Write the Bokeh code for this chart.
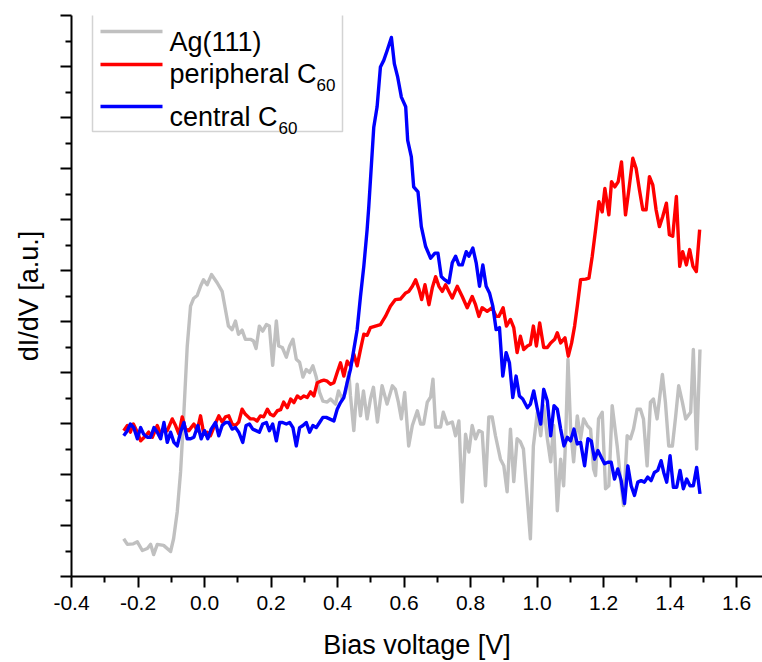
from bokeh.plotting import figure
from bokeh.models import FixedTicker, Label, BoxAnnotation, Arrow, Range1d
from bokeh.embed import file_html
from bokeh.resources import INLINE

# ---------------- data ----------------
ag_v = [-0.243, -0.232, -0.214, -0.202, -0.187, -0.172, -0.162, -0.153, -0.142, -0.123,
        -0.102, -0.093, -0.082, -0.072, -0.063, -0.052, -0.042, -0.033, -0.022, -0.012,
        -0.003, 0.008, 0.021, 0.038, 0.053, 0.063, 0.072, 0.083, 0.093, 0.102,
        0.113, 0.123, 0.138, 0.147, 0.155, 0.165, 0.175, 0.186, 0.195, 0.205,
        0.216, 0.223, 0.234, 0.246, 0.256, 0.266, 0.276, 0.286, 0.296, 0.306,
        0.316, 0.326, 0.336, 0.346, 0.356, 0.369, 0.379, 0.394, 0.403, 0.414,
        0.424, 0.434, 0.439, 0.449, 0.459, 0.469, 0.478, 0.489, 0.499, 0.508,
        0.520, 0.534, 0.549, 0.565, 0.574, 0.583, 0.592, 0.602, 0.614, 0.625,
        0.640, 0.650, 0.659, 0.670, 0.680, 0.687, 0.695, 0.710, 0.718, 0.730,
        0.745, 0.755, 0.765, 0.775, 0.785, 0.795, 0.805, 0.815, 0.825, 0.835,
        0.845, 0.855, 0.865, 0.875, 0.890, 0.900, 0.910, 0.920, 0.930, 0.940,
        0.950, 0.959, 0.980, 0.989, 1.001, 1.011, 1.020, 1.031, 1.041, 1.050,
        1.061, 1.071, 1.080, 1.086, 1.093, 1.101, 1.110, 1.121, 1.131, 1.140,
        1.151, 1.161, 1.170, 1.176, 1.185, 1.196, 1.206, 1.216, 1.226, 1.241,
        1.251, 1.260, 1.271, 1.281, 1.290, 1.301, 1.311, 1.320, 1.331, 1.341,
        1.350, 1.361, 1.377, 1.386, 1.396, 1.407, 1.417, 1.426, 1.437, 1.447,
        1.462, 1.470, 1.480, 1.490]
ag_y = [0.74, 0.63, 0.64, 0.68, 0.51, 0.55, 0.63, 0.43, 0.63, 0.61,
        0.49, 0.74, 1.27, 2.05, 3.09, 4.51, 5.30, 5.45, 5.51, 5.69,
        5.82, 5.72, 5.92, 5.76, 5.59, 5.23, 4.91, 4.84, 5.01, 4.75,
        4.83, 4.65, 4.65, 4.62, 4.47, 4.91, 4.81, 4.94, 4.91, 4.14,
        5.01, 4.52, 4.49, 4.30, 4.52, 4.65, 4.26, 4.20, 3.91, 4.06,
        4.00, 4.13, 3.91, 3.61, 3.44, 3.42, 3.48, 3.38, 3.64, 3.48,
        3.61, 4.00, 3.54, 2.86, 3.77, 3.15, 3.64, 3.09, 3.48, 3.71,
        3.03, 3.74, 3.38, 3.74, 3.67, 3.42, 3.09, 3.61, 2.56, 2.96,
        3.25, 2.99, 2.99, 3.42, 3.52, 3.87, 2.93, 2.93, 3.22, 2.99,
        3.03, 2.76, 3.05, 1.46, 2.79, 2.44, 2.96, 2.70, 2.86, 2.83,
        1.78, 3.13, 3.13, 2.76, 2.30, 2.17, 1.66, 2.89, 1.86, 2.70,
        2.64, 2.50, 0.74, 2.56, 3.22, 2.76, 3.35, 2.70, 2.25, 2.96,
        1.29, 2.30, 1.78, 2.70, 4.26, 2.89, 2.25, 3.15, 2.70, 3.09,
        2.96, 2.89, 2.11, 1.98, 3.09, 3.22, 1.72, 1.78, 3.35, 2.56,
        1.91, 1.39, 2.76, 2.70, 2.89, 3.28, 3.28, 3.09, 2.17, 3.42,
        3.48, 3.09, 3.96, 3.42, 2.56, 2.56, 3.15, 3.74, 3.42, 3.09,
        3.22, 4.45, 2.50, 4.45]

per_v = [-0.243, -0.232, -0.223, -0.214, -0.202, -0.192, -0.177, -0.168, -0.157, -0.142,
         -0.132, -0.123, -0.112, -0.097, -0.087, -0.077, -0.067, -0.057, -0.047, -0.032,
         -0.022, -0.012, -0.002, 0.008, 0.018, 0.030, 0.043, 0.053, 0.063, 0.073,
         0.083, 0.093, 0.103, 0.113, 0.123, 0.138, 0.148, 0.158, 0.168, 0.178,
         0.189, 0.198, 0.208, 0.219, 0.229, 0.238, 0.249, 0.259, 0.269, 0.279,
         0.289, 0.299, 0.309, 0.319, 0.329, 0.339, 0.349, 0.359, 0.369, 0.379,
         0.389, 0.399, 0.409, 0.419, 0.429, 0.439, 0.449, 0.459, 0.469, 0.479,
         0.489, 0.499, 0.514, 0.529, 0.544, 0.559, 0.574, 0.589, 0.605, 0.614,
         0.625, 0.635, 0.645, 0.653, 0.663, 0.675, 0.685, 0.695, 0.705, 0.715,
         0.725, 0.735, 0.745, 0.760, 0.775, 0.790, 0.805, 0.815, 0.825, 0.835,
         0.850, 0.865, 0.877, 0.885, 0.898, 0.908, 0.920, 0.930, 0.940, 0.950,
         0.960, 0.971, 0.980, 0.989, 0.998, 1.008, 1.020, 1.031, 1.041, 1.053,
         1.061, 1.071, 1.084, 1.094, 1.104, 1.113, 1.121, 1.131, 1.146, 1.156,
         1.166, 1.176, 1.186, 1.196, 1.204, 1.216, 1.224, 1.234, 1.244, 1.254,
         1.266, 1.276, 1.288, 1.298, 1.308, 1.318, 1.328, 1.338, 1.348, 1.358,
         1.368, 1.378, 1.389, 1.398, 1.408, 1.419, 1.429, 1.438, 1.449, 1.459,
         1.469, 1.479, 1.489]
per_y = [2.86, 2.96, 2.83, 2.99, 2.83, 2.66, 2.76, 2.83, 2.73, 2.96,
         2.79, 2.89, 2.86, 3.09, 2.96, 2.79, 3.13, 2.89, 2.86, 2.99,
         2.86, 3.15, 2.79, 2.83, 2.76, 2.96, 3.15, 3.03, 3.13, 3.15,
         2.99, 2.96, 3.03, 3.28, 3.18, 3.09, 3.09, 3.05, 3.15, 3.13,
         3.28, 3.18, 3.15, 3.25, 3.27, 3.42, 3.31, 3.48, 3.41, 3.54,
         3.49, 3.54, 3.51, 3.62, 3.54, 3.80, 3.83, 3.85, 3.83, 3.77,
         3.80, 4.00, 4.19, 3.93, 4.22, 4.13, 4.36, 4.13, 4.45, 4.75,
         4.73, 4.88, 4.91, 4.94, 5.10, 5.30, 5.43, 5.44, 5.56, 5.59,
         5.69, 5.82, 5.63, 5.43, 5.72, 5.33, 5.66, 5.88, 5.69, 5.59,
         5.72, 5.59, 5.46, 5.69, 5.49, 5.27, 5.49, 5.33, 5.10, 5.27,
         5.20, 5.27, 5.10, 5.10, 5.27, 4.91, 5.04, 4.88, 4.39, 4.71,
         4.45, 4.52, 4.55, 4.91, 4.52, 4.97, 4.49, 4.49, 4.58, 4.65,
         4.78, 4.58, 4.68, 4.32, 4.58, 4.91, 5.30, 5.82, 5.83, 5.85,
         6.28, 6.80, 7.35, 7.15, 7.61, 7.09, 7.74, 7.64, 7.74, 8.13,
         7.09, 7.58, 8.20, 8.00, 7.58, 7.19, 7.19, 7.84, 7.68, 7.19,
         6.86, 7.06, 7.32, 6.70, 6.67, 7.45, 6.08, 6.37, 6.11, 6.41,
         6.08, 5.98, 6.80]

cen_v = [-0.243, -0.232, -0.223, -0.213, -0.202, -0.192, -0.183, -0.172, -0.162, -0.152,
         -0.142, -0.132, -0.122, -0.112, -0.102, -0.092, -0.082, -0.072, -0.062, -0.052,
         -0.042, -0.032, -0.020, -0.010, 0.000, 0.010, 0.020, 0.033, 0.043, 0.053,
         0.063, 0.073, 0.083, 0.093, 0.103, 0.115, 0.125, 0.135, 0.145, 0.155,
         0.165, 0.175, 0.186, 0.195, 0.205, 0.216, 0.226, 0.235, 0.246, 0.256,
         0.266, 0.276, 0.286, 0.296, 0.306, 0.316, 0.326, 0.336, 0.346, 0.356,
         0.366, 0.376, 0.389, 0.399, 0.409, 0.419, 0.429, 0.439, 0.449, 0.459,
         0.469, 0.479, 0.489, 0.494, 0.509, 0.519, 0.529, 0.539, 0.549, 0.562,
         0.571, 0.581, 0.592, 0.605, 0.611, 0.622, 0.629, 0.642, 0.652, 0.665,
         0.680, 0.693, 0.702, 0.712, 0.722, 0.735, 0.745, 0.755, 0.765, 0.775,
         0.787, 0.795, 0.807, 0.817, 0.827, 0.837, 0.847, 0.857, 0.867, 0.877,
         0.887, 0.897, 0.907, 0.917, 0.927, 0.937, 0.947, 0.957, 0.971, 0.980,
         0.990, 1.001, 1.011, 1.020, 1.031, 1.041, 1.051, 1.061, 1.071, 1.081,
         1.091, 1.101, 1.111, 1.121, 1.131, 1.143, 1.153, 1.163, 1.173, 1.183,
         1.193, 1.203, 1.213, 1.223, 1.233, 1.243, 1.253, 1.263, 1.273, 1.283,
         1.293, 1.303, 1.313, 1.323, 1.333, 1.343, 1.353, 1.363, 1.373, 1.381,
         1.390, 1.400, 1.410, 1.420, 1.430, 1.440, 1.450, 1.460, 1.470, 1.480,
         1.490]
cen_y = [2.76, 2.86, 2.99, 2.92, 2.70, 2.92, 2.79, 2.73, 2.73, 2.92,
         2.83, 2.70, 3.02, 2.63, 2.83, 2.63, 2.56, 2.83, 3.02, 2.70,
         2.70, 2.73, 2.96, 2.70, 2.86, 2.70, 2.89, 3.02, 2.76, 2.96,
         3.02, 3.02, 2.89, 2.92, 2.83, 2.63, 2.96, 2.99, 2.89, 2.86,
         2.83, 2.99, 3.02, 2.86, 2.99, 2.66, 3.02, 3.02, 2.99, 3.02,
         2.92, 2.56, 2.92, 2.96, 3.02, 2.83, 2.96, 2.92, 3.02, 3.12,
         3.12, 3.09, 3.05, 3.28, 3.41, 3.51, 3.80, 4.06, 4.45, 4.84,
         5.49, 6.08, 6.80, 7.25, 8.81, 9.21, 9.99, 10.12, 10.31, 10.57,
         10.05, 9.79, 9.40, 9.21, 8.55, 8.23, 7.64, 7.54, 6.86, 6.47,
         6.24, 6.34, 6.34, 5.88, 5.82, 5.76, 6.15, 6.28, 6.11, 6.11,
         6.37, 6.28, 6.44, 6.15, 5.69, 6.11, 5.69, 5.56, 5.30, 4.84,
         4.88, 3.93, 4.39, 4.19, 3.51, 3.93, 3.54, 3.48, 3.31, 3.38,
         3.64, 3.28, 2.99, 3.67, 3.44, 2.76, 3.35, 3.28, 2.89, 2.56,
         2.73, 2.66, 2.89, 2.60, 2.63, 2.17, 2.70, 2.66, 2.30, 2.47,
         2.34, 2.21, 2.24, 2.24, 1.91, 2.11, 1.88, 1.43, 2.17, 1.78,
         1.59, 1.85, 1.88, 1.85, 1.95, 1.88, 2.04, 2.08, 2.27, 2.04,
         1.85, 2.37, 1.75, 1.75, 2.08, 1.72, 1.91, 1.78, 1.78, 2.14,
         1.62]

series_names = ["Ag(111)", "peripheral C", "central C"]
series_sub = ["", "60", "60"]
series_colors = ["#c0c0c0", "#ff0000", "#0000ff"]

x_ticks = [-0.4, -0.2, 0.0, 0.2, 0.4, 0.6, 0.8, 1.0, 1.2, 1.4, 1.6]
x_tick_labels = ["-0.4", "-0.2", "0.0", "0.2", "0.4", "0.6", "0.8", "1.0", "1.2", "1.4", "1.6"]
x_minor = [-0.3, -0.1, 0.1, 0.3, 0.5, 0.7, 0.9, 1.1, 1.3, 1.5]
y_ticks = [0, 1, 2, 3, 4, 5, 6, 7, 8, 9, 10, 11]
y_minor = [0.5, 1.5, 2.5, 3.5, 4.5, 5.5, 6.5, 7.5, 8.5, 9.5, 10.5]
x_title = "Bias voltage [V]"
y_title = "dI/dV [a.u.]"

FONT = "Liberation Sans"
W, H = 762, 662
FRAME_LEFT, FRAME_TOP, FRAME_BOTTOM = 71, 15, 578

p = figure(width=W, height=H, x_range=Range1d(-0.4, 1.678), y_range=Range1d(0, 11),
           output_backend="svg", toolbar_location=None,
           min_border_left=FRAME_LEFT, min_border_right=0,
           min_border_top=FRAME_TOP, min_border_bottom=H - FRAME_BOTTOM)
p.outline_line_color = None
p.xgrid.visible = False
p.ygrid.visible = False
p.background_fill_color = "white"
p.border_fill_color = "white"

for v, y, c in [(ag_v, ag_y, series_colors[0]), (per_v, per_y, series_colors[1]),
                (cen_v, cen_y, series_colors[2])]:
    p.line(v, y, line_color=c, line_width=3.4, line_join="round")

xa = p.xaxis[0]
xa.ticker = FixedTicker(ticks=x_ticks, minor_ticks=x_minor)
xa.major_label_overrides = {t: l for t, l in zip(x_ticks, x_tick_labels)}
xa.axis_label = x_title
ya = p.yaxis[0]
ya.ticker = FixedTicker(ticks=y_ticks, minor_ticks=y_minor)
ya.major_label_overrides = {t: "" for t in y_ticks}
ya.major_label_standoff = 0
ya.axis_label = y_title

for ax in (xa, ya):
    ax.axis_line_color = "black"
    ax.axis_line_width = 2
    ax.major_tick_line_color = "black"
    ax.major_tick_line_width = 2
    ax.minor_tick_line_color = "black"
    ax.minor_tick_line_width = 2
    ax.major_tick_in = 0
    ax.major_tick_out = 11
    ax.minor_tick_in = 0
    ax.minor_tick_out = 6
    ax.major_label_text_font = FONT
    ax.major_label_text_font_size = "21px"
    ax.major_label_text_color = "black"
    ax.axis_label_text_font = FONT
    ax.axis_label_text_font_size = "27px"
    ax.axis_label_text_font_style = "normal"
    ax.axis_label_text_color = "black"
xa.major_label_standoff = 8
xa.axis_label_standoff = 17
ya.axis_label_standoff = 17


# ---------------- legend, in screen pixels relative to the frame ----------------
def sx(px):
    return px - FRAME_LEFT


def sy(py):
    return FRAME_BOTTOM - py


p.add_layout(BoxAnnotation(left=sx(92), right=sx(342), top=sy(15), bottom=sy(133),
                           left_units="screen", right_units="screen",
                           top_units="screen", bottom_units="screen",
                           fill_color="white", fill_alpha=1.0,
                           line_color="#6e6e6e", line_width=1.5))
rows = [(33, 43, None), (66, 75, 86), (108, 118, 129)]
sub_x = [None, 316, 278]
for i, (ly, base, subbase) in enumerate(rows):
    p.add_layout(Arrow(end=None, x_start=sx(100), y_start=sy(ly), x_end=sx(162), y_end=sy(ly),
                       start_units="screen", end_units="screen",
                       line_color=series_colors[i], line_width=3.4))
    p.add_layout(Label(x=sx(169), y=sy(base), x_units="screen", y_units="screen",
                       text=series_names[i], text_font=FONT, text_font_size="27px",
                       text_color="black", text_baseline="alphabetic", text_align="left"))
    if series_sub[i]:
        p.add_layout(Label(x=sx(sub_x[i]), y=sy(subbase), x_units="screen", y_units="screen",
                           text=series_sub[i], text_font=FONT, text_font_size="17px",
                           text_color="black", text_baseline="alphabetic", text_align="left"))

open("out.html", "w").write(file_html(p, INLINE))
